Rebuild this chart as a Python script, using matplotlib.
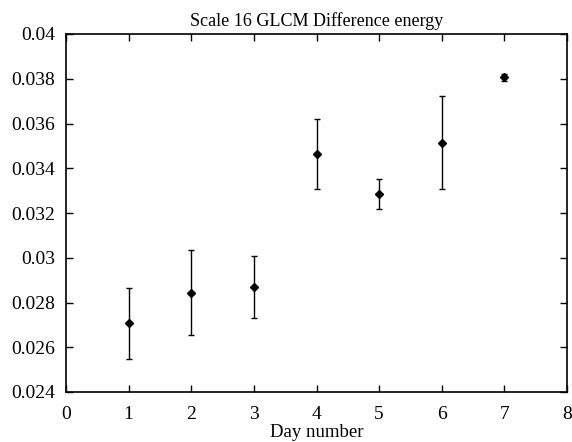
import matplotlib
matplotlib.use("Agg")
import matplotlib.pyplot as plt

plt.rcParams['font.family'] = ['Liberation Serif', 'DejaVu Serif']

# ------------------------------------------------------------------ #
# data
days = [1, 2, 3, 4, 5, 6, 7]
energy = [0.02708, 0.02844, 0.02869, 0.03465, 0.03286, 0.03514, 0.03806]
err_low = [0.02549, 0.02656, 0.02732, 0.03306, 0.03219, 0.03306, 0.03792]
err_high = [0.02866, 0.03035, 0.03009, 0.03620, 0.03352, 0.03723, 0.03820]

x_ticks = [0, 1, 2, 3, 4, 5, 6, 7, 8]
y_ticks = [0.024, 0.026, 0.028, 0.03, 0.032, 0.034, 0.036, 0.038, 0.04]
y_labels = ['0.024', '0.026', '0.028', '0.03', '0.032', '0.034', '0.036', '0.038', '0.04']

# ------------------------------------------------------------------ #
fig = plt.figure(figsize=(5.72, 4.42), dpi=100)
ax = fig.add_axes([66 / 572, 1 - 392 / 442, 501 / 572, 358 / 442])

yerr = [[e - lo for e, lo in zip(energy, err_low)],
        [hi - e for e, hi in zip(energy, err_high)]]
ax.errorbar(days, energy, yerr=yerr, fmt='D', color='black',
            markersize=4.2, elinewidth=1, capsize=2.5, capthick=1)

ax.set_xlim(0, 8)
ax.set_ylim(0.024, 0.04)
ax.set_xticks(x_ticks)
ax.set_yticks(y_ticks)
ax.set_yticklabels(y_labels)
ax.tick_params(direction='in', length=5, width=1, top=True, right=True,
               labelsize=14)
ax.tick_params(axis='x', pad=10)
ax.tick_params(axis='y', pad=8)
for spine in ax.spines.values():
    spine.set_linewidth(1.2)

ax.set_xlabel('Day number', fontsize=13.5, labelpad=1)
ax.set_title('Scale 16 GLCM Difference energy', fontsize=13, pad=6)

plt.savefig('out.png', dpi=100)
plt.close()
